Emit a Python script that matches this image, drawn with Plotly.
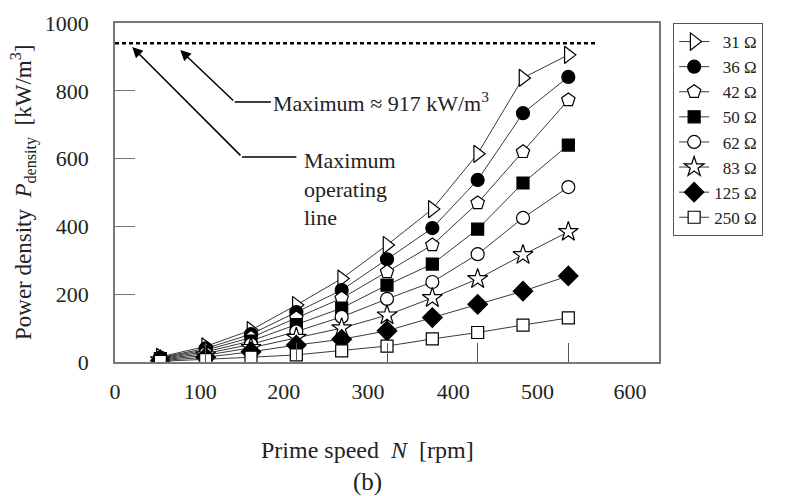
import plotly.graph_objects as go

speed = [50, 100, 150, 200, 250, 300, 350, 400, 450, 500]
labels = ["31 Ω", "36 Ω", "42 Ω", "50 Ω", "62 Ω", "83 Ω", "125 Ω", "250 Ω"]
p31 = [15, 46, 94, 168, 246, 345, 451, 614, 838, 906]
p36 = [13, 40, 82, 147, 212, 303, 395, 537, 734, 841]
p42 = [12, 35, 72, 130, 188, 266, 345, 469, 620, 773]
p50 = [10, 30, 62, 110, 159, 227, 289, 392, 528, 640]
p62 = [8, 25, 52, 90, 133, 186, 236, 318, 425, 516]
p83 = [6, 20, 42, 72, 100, 138, 189, 245, 316, 384]
p125 = [4, 14, 30, 50, 67, 92, 131, 170, 209, 254]
p250 = [2, 7, 14, 21, 33, 47, 68, 87, 109, 130]
series = [p31, p36, p42, p50, p62, p83, p125, p250]

max_line = 940
x_ticktext = ["0", "100", "200", "300", "400", "500", "600"]
x_tickpos = [0, 94, 186, 279, 373, 466, 568]
y_ticks = [0, 200, 400, 600, 800, 1000]

styles = [
    dict(symbol="triangle-right", color="white", size=15),
    dict(symbol="circle", color="black", size=13),
    dict(symbol="pentagon", color="white", size=14),
    dict(symbol="square", color="black", size=12),
    dict(symbol="circle", color="white", size=13),
    dict(symbol="star", color="white", size=15),
    dict(symbol="diamond", color="black", size=15),
    dict(symbol="square", color="white", size=12),
]

SERIF = "Liberation Serif"
TXT = "#222"
fig = go.Figure()
for lab, vals, st in zip(labels, series, styles):
    name = lab if len(lab) > 4 else "\u00a0\u00a0" + lab
    fig.add_trace(go.Scatter(
        x=speed, y=vals, mode="lines+markers", name=name,
        line=dict(color="#3a3a3a", width=1),
        marker=dict(symbol=st["symbol"], color=st["color"], size=st["size"],
                    line=dict(color="black", width=1.2)),
    ))

# maximum line
fig.add_shape(type="line", x0=0, x1=530, y0=max_line, y1=max_line,
              line=dict(color="black", width=2.5, dash="4px,3px"), layer="above")

# arrows
fig.add_annotation(x=19, y=929, ax=140, ay=605, axref="x", ayref="y", text="",
                   showarrow=True, arrowhead=2, arrowsize=1.4, arrowwidth=1.5, arrowcolor="black")
fig.add_shape(type="line", x0=140, x1=200, y0=605, y1=605, line=dict(color="black", width=1.5))
fig.add_annotation(x=72, y=920, ax=132, ay=767, axref="x", ayref="y", text="",
                   showarrow=True, arrowhead=2, arrowsize=1.4, arrowwidth=1.5, arrowcolor="black")
fig.add_shape(type="line", x0=132, x1=172, y0=767, y1=767, line=dict(color="black", width=1.5))

fig.add_annotation(x=172, y=767, text="Maximum ≈ 917 kW/m<sup>3</sup>", showarrow=False,
                   xanchor="left", yanchor="middle", font=dict(family=SERIF, size=22, color=TXT))
fig.add_annotation(x=206, y=637, text="Maximum<br>operating<br>line", showarrow=False,
                   xanchor="left", yanchor="top", align="left",
                   font=dict(family=SERIF, size=22, color=TXT))

# axis titles and caption
fig.add_annotation(xref="paper", yref="paper", x=0.465, y=-0.26, xanchor="center", yanchor="middle",
                   text="Prime speed  <i>N</i>  [rpm]", showarrow=False,
                   font=dict(family=SERIF, size=24, color=TXT))
fig.add_annotation(xref="paper", yref="paper", x=0.465, y=-0.355, xanchor="center", yanchor="middle",
                   text="(b)", showarrow=False, font=dict(family=SERIF, size=25, color=TXT))
fig.add_annotation(xref="paper", yref="paper", x=-0.17, y=0.5, xanchor="center", yanchor="middle",
                   text="Power density  <i>P</i><sub>density</sub>  [kW/m<sup>3</sup>]", textangle=-90,
                   showarrow=False, font=dict(family=SERIF, size=23, color=TXT))

fig.update_xaxes(range=[0, 600], tickvals=x_tickpos, ticktext=x_ticktext, ticks="",
                 showline=True, mirror=True, linecolor="#777", linewidth=1.5,
                 showgrid=False, zeroline=False, ticklabelstandoff=9, automargin=False,
                 tickfont=dict(family=SERIF, size=22, color=TXT),
                 minor=dict(tickvals=[100, 200, 300, 400, 500], ticks="inside",
                            ticklen=19, tickcolor="#555", tickwidth=1.2, showgrid=False))
fig.update_yaxes(range=[0, 1000], tickvals=y_ticks, ticks="inside", ticklen=20,
                 tickcolor="#777", tickwidth=1.2,
                 showline=True, mirror=True, linecolor="#777", linewidth=1.5,
                 showgrid=False, zeroline=False, ticklabelstandoff=20, automargin=False,
                 tickfont=dict(family=SERIF, size=22, color=TXT))

fig.update_layout(
    width=782, height=488,
    margin=dict(l=107, r=131, t=15, b=134),
    plot_bgcolor="white", paper_bgcolor="white",
    legend=dict(x=1.026, y=1, xanchor="left", yanchor="top",
                bordercolor="#555", borderwidth=1,
                font=dict(family=SERIF, size=17, color=TXT),
                tracegroupgap=0, itemwidth=30),
    showlegend=True,
)
fig.write_html("out.html")
